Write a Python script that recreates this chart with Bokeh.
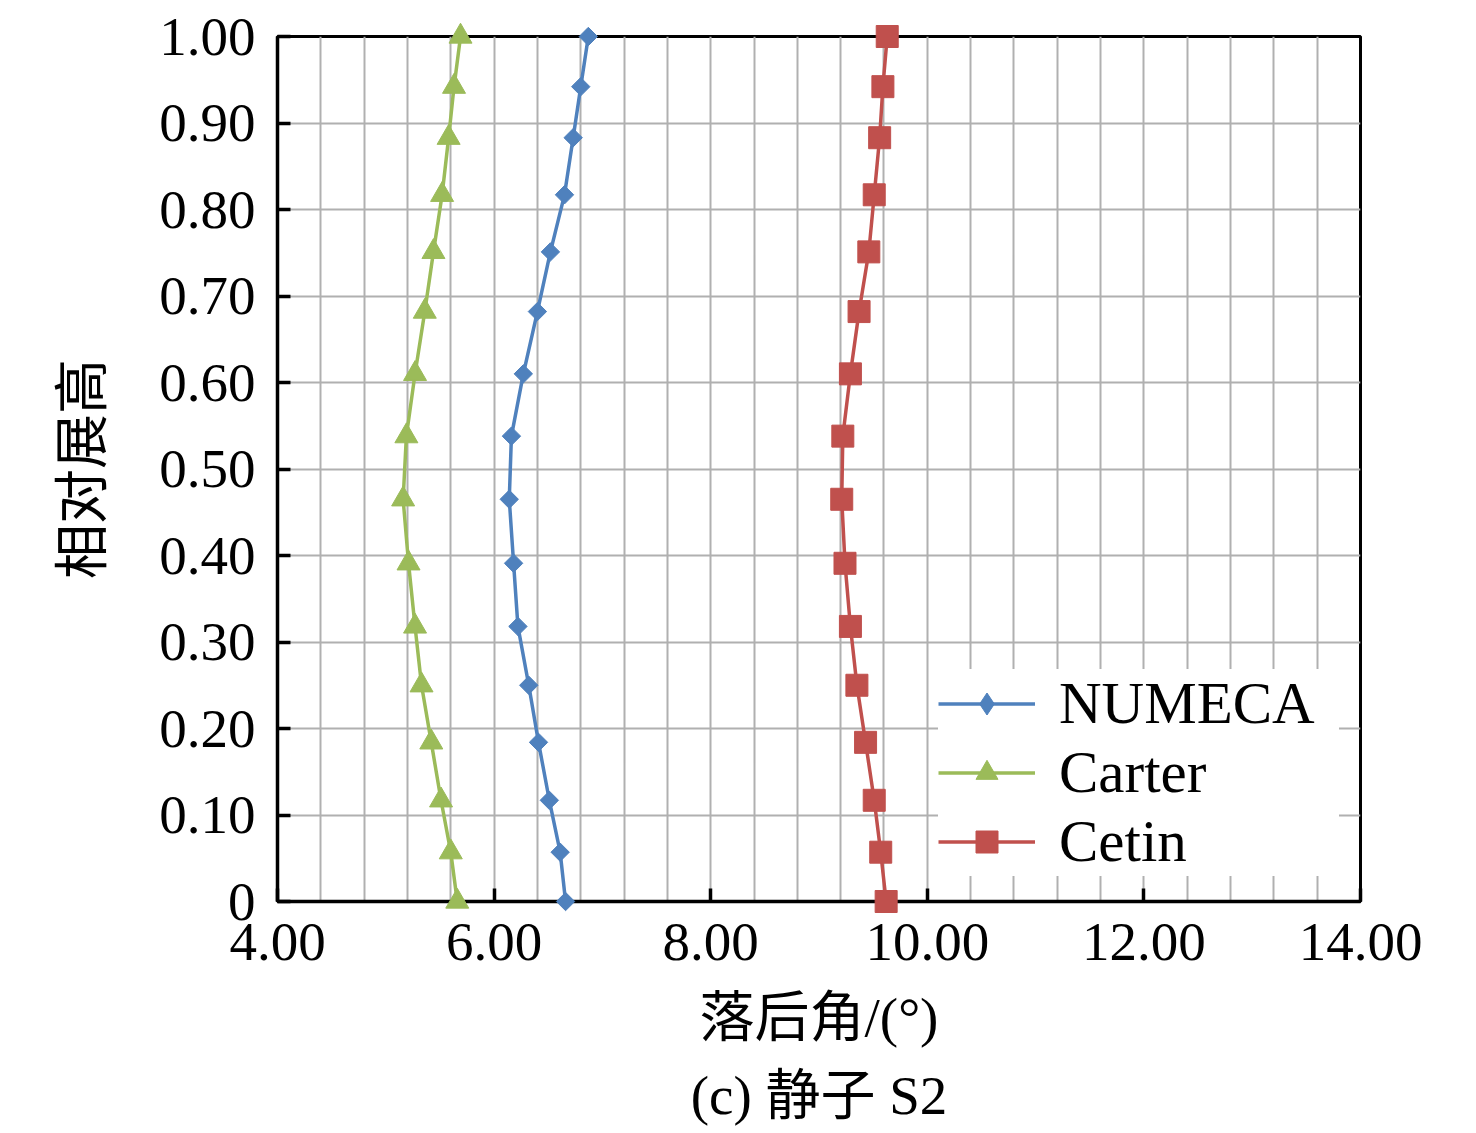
from bokeh.plotting import figure
from bokeh.models import Range1d, FixedTicker, Legend, LegendItem, Title
from bokeh.embed import file_html
from bokeh.resources import INLINE
import numpy as np

# relative span height (shared by all three series)
span = [0, 0.057, 0.117, 0.184, 0.250, 0.318, 0.391, 0.465, 0.538,
        0.610, 0.682, 0.751, 0.817, 0.883, 0.942, 1.0]

# deviation angle, degrees
numeca = [6.66, 6.61, 6.51, 6.41, 6.32, 6.22, 6.18, 6.14, 6.16,
          6.27, 6.40, 6.52, 6.65, 6.73, 6.80, 6.87]
carter = [5.66, 5.60, 5.51, 5.42, 5.33, 5.27, 5.21, 5.16, 5.19,
          5.27, 5.36, 5.44, 5.52, 5.58, 5.63, 5.69]
cetin = [9.62, 9.57, 9.51, 9.43, 9.35, 9.29, 9.24, 9.21, 9.22,
         9.29, 9.37, 9.46, 9.51, 9.56, 9.59, 9.63]

x_ticks = [4, 6, 8, 10, 12, 14]
x_tick_labels = ["4.00", "6.00", "8.00", "10.00", "12.00", "14.00"]
y_ticks = [0, 0.1, 0.2, 0.3, 0.4, 0.5, 0.6, 0.7, 0.8, 0.9, 1.0]
y_tick_labels = ["0", "0.10", "0.20", "0.30", "0.40", "0.50",
                 "0.60", "0.70", "0.80", "0.90", "1.00"]

FONT = "'Liberation Serif', 'Noto Sans CJK SC'"
BLUE = "#4F81BD"
GREEN = "#9BBB59"
RED = "#C0504D"

p = figure(
    width=1460, height=1117,
    frame_width=1083, frame_height=865,
    min_border_left=277, min_border_top=36, min_border_right=100, min_border_bottom=10,
    x_axis_label="落后角/(°)",
    y_axis_label="相对展高",
    toolbar_location=None,
    output_backend="svg",
)
p.x_range = Range1d(4, 14)
p.y_range = Range1d(0, 1.0)

# grid: 0.4 steps on x, 0.1 on y
p.xgrid.ticker = FixedTicker(ticks=list(np.round(np.arange(4.4, 14.0, 0.4), 2)))
p.ygrid.ticker = FixedTicker(ticks=y_ticks[1:])
for g in (p.xgrid, p.ygrid):
    g.grid_line_color = "#B0B0B0"
    g.grid_line_width = 2

p.outline_line_color = "black"
p.outline_line_width = 3
p.outline_line_alpha = 1

p.xaxis.ticker = FixedTicker(ticks=x_ticks)
p.xaxis.major_label_overrides = dict(zip(x_ticks, x_tick_labels))
p.yaxis.ticker = FixedTicker(ticks=y_ticks)
p.yaxis.major_label_overrides = dict(zip(y_ticks, y_tick_labels))

for ax in (p.xaxis, p.yaxis):
    ax.axis_line_width = 3.5
    ax.axis_line_color = "black"
    ax.major_tick_in = 13
    ax.major_tick_out = 0
    ax.major_tick_line_width = 3.5
    ax.minor_tick_line_color = None
    ax.major_label_text_font = FONT
    ax.major_label_text_font_size = "55px"
    ax.major_label_text_color = "black"
    ax.axis_label_text_font = FONT
    ax.axis_label_text_font_size = "55px"
    ax.axis_label_text_font_style = "normal"
    ax.axis_label_text_color = "black"

p.xaxis.major_label_standoff = 22
p.xaxis.axis_label_standoff = 24
p.yaxis.major_label_standoff = 22
p.yaxis.axis_label_standoff = 43

sub = Title(text="(c) 静子 S2", align="center", text_font=FONT,
            text_font_size="55px", text_font_style="normal",
            text_color="black", standoff=24)
p.add_layout(sub, "below")

r_nl = p.line(numeca, span, color=BLUE, line_width=3.5)
r_cl = p.line(carter, span, color=GREEN, line_width=3.5)
r_el = p.line(cetin, span, color=RED, line_width=3.5)
# markers on the overlay level so the ones at 0 and 1.00 are not cut by the frame
r_nm = p.scatter(numeca, span, marker="square", angle=np.pi / 4, size=13, color=BLUE, level="overlay")
r_cm = p.scatter(carter, span, marker="triangle", size=23, color=GREEN, level="overlay")
r_em = p.scatter(cetin, span, marker="square", size=22, color=RED, level="overlay")
# legend swatch only (the legend does not rotate markers); NaN keeps it off the plot
r_nkey = p.scatter(x=[np.nan], y=[np.nan], marker="diamond", color=BLUE)

legend = Legend(
    items=[
        LegendItem(label="NUMECA", renderers=[r_nl, r_nkey]),
        LegendItem(label="Carter", renderers=[r_cl, r_cm]),
        LegendItem(label="Cetin", renderers=[r_el, r_em]),
    ],
    location=(661, 25),
    label_text_font=FONT,
    label_text_font_size="59px",
    label_text_color="black",
    label_height=56,
    label_width=280,
    glyph_width=97,
    glyph_height=55,
    label_standoff=24,
    spacing=0,
    padding=6,
    margin=0,
    border_line_color=None,
    background_fill_color="white",
    background_fill_alpha=1,
)
p.add_layout(legend, "center")

open("out.html", "w").write(file_html(p, INLINE))
